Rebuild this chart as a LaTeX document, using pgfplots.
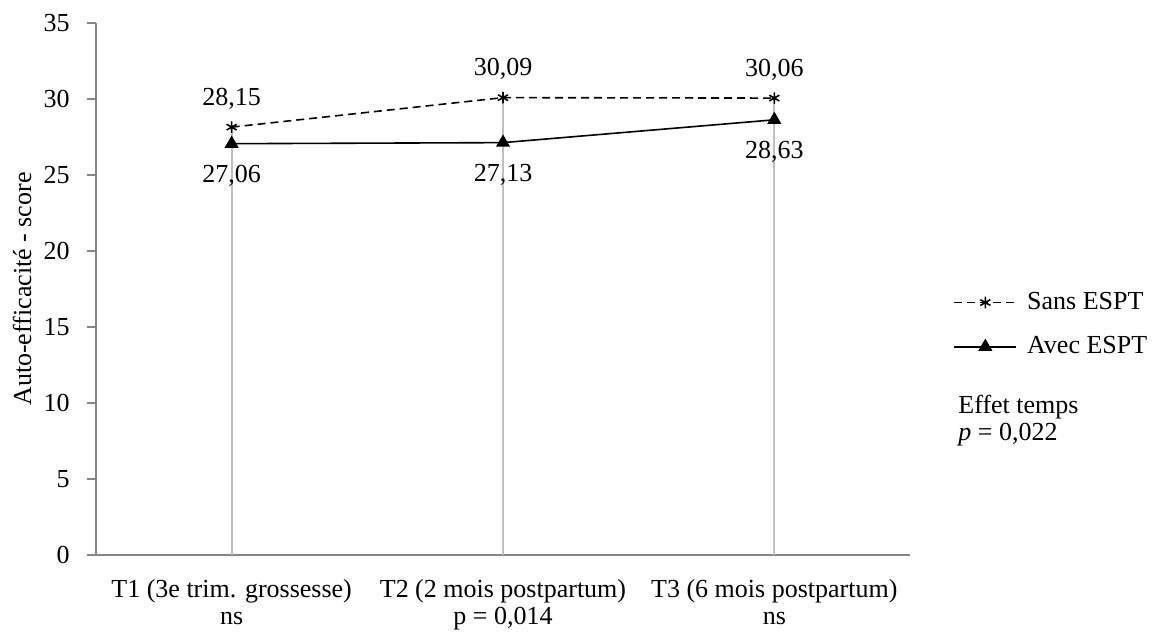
\documentclass[border=0pt]{standalone}
\usepackage{fontspec}
\setmainfont{Liberation Serif}
\usepackage{pgfplots}
\pgfplotsset{compat=1.18}
\definecolor{axgray}{RGB}{134,134,134}
\definecolor{dropgray}{RGB}{191,191,191}
\begin{document}
\begin{tikzpicture}[font=\fontsize{13pt}{13.5pt}\selectfont]
\useasboundingbox (-48pt,-38.5pt) rectangle (530.5pt,277.5pt);
\begin{axis}[
    at={(0,0)}, anchor=south west,
    scale only axis,
    width=407pt, height=266pt,
    xmin=-0.5, xmax=2.5,
    ymin=0, ymax=35,
    clip=false,
    axis lines*=left,
    axis line style={axgray, line width=0.9pt, -},
    xtick={0,1,2},
    xticklabels={{T1 (3e trim. grossesse)\\ns},{T2 (2 mois postpartum)\\p = 0,014},{T3 (6 mois postpartum)\\ns}},
    x tick label style={align=center, anchor=north, inner sep=0pt, yshift=-7.5pt},
    x tick style={draw=none},
    ytick={0,5,...,35},
    tick align=outside,
    major tick length=4.5pt,
    y tick style={axgray, line width=0.9pt},
    y tick label style={xshift=-5.2pt},
    /pgf/number format/assume math mode=true,
    ylabel={Auto-efficacité - score},
    every axis y label/.style={at={(rel axis cs:0,0.5)}, rotate=90, anchor=center, yshift=37pt},
    legend style={draw=none, at={(rel axis cs:1.053,0.433)}, anchor=west, inner sep=0pt, row sep=8pt, column sep=3pt, fill=none},
    legend cell align=left,
    legend image code/.code={\draw[mark repeat=2, mark phase=2, #1] plot coordinates {(0pt,0pt) (15.5pt,0pt) (31pt,0pt)};},
    point meta=explicit symbolic,
]
% vertical drop lines
\addplot[ycomb, dropgray, line width=0.9pt, no markers, forget plot]
    coordinates {(0,28.15) (1,30.09) (2,30.06)};

\addplot[black, line width=0.8pt, dash pattern=on 4pt off 2.5pt,
    mark=asterisk, mark options={solid, mark size=2.9pt},
    nodes near coords,
    every node near coord/.append style={anchor=base, yshift=11pt, black}]
    coordinates {(0,28.15) [28,15] (1,30.09) [30,09] (2,30.06) [30,06]};
\addlegendentry{Sans ESPT}

\addplot[black, line width=0.8pt,
    mark=triangle*, mark options={solid, mark size=3.3pt},
    nodes near coords,
    every node near coord/.append style={anchor=base, yshift=-19.5pt, black}]
    coordinates {(0,27.06) [27,06] (1,27.13) [27,13] (2,28.63) [28,63]};
\addlegendentry{Avec ESPT}

\node[anchor=base west, inner sep=0pt] at (rel axis cs:1.059,0.2669) {Effet temps};
\node[anchor=base west, inner sep=0pt] at (rel axis cs:1.059,0.2143) {\textit{p} = 0,022};
\end{axis}
\end{tikzpicture}
\end{document}
